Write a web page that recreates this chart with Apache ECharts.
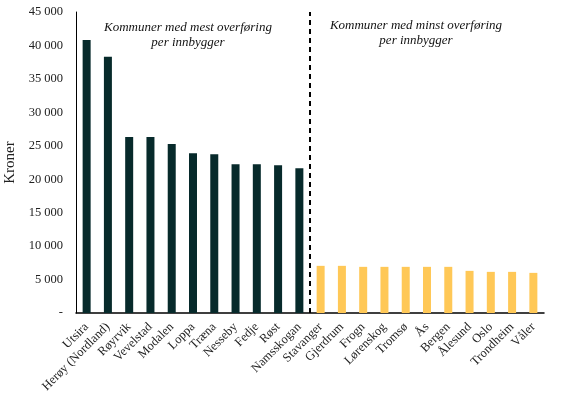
<!DOCTYPE html>
<html>
<head>
<meta charset="utf-8">
<script src="https://cdn.jsdelivr.net/npm/echarts@6/dist/echarts.min.js"></script>
<style>
  html, body { margin: 0; padding: 0; background: #fff; }
  #chart { width: 578px; height: 398px; }
</style>
</head>
<body>
<div id="chart"></div>
<script>
// mest overføring per innbygger
const mestNavn = ["Utsira", "Herøy (Nordland)", "Røyrvik", "Vevelstad", "Modalen", "Loppa", "Træna", "Nesseby", "Fedje", "Røst", "Namsskogan"];
const mestVerdi = [40800, 38300, 26300, 26300, 25250, 23900, 23750, 22250, 22250, 22100, 21650];
// minst overføring per innbygger
const minstNavn = ["Stavanger", "Gjerdrum", "Frogn", "Lørenskog", "Tromsø", "Ås", "Bergen", "Ålesund", "Oslo", "Trondheim", "Våler"];
const minstVerdi = [7050, 7050, 6900, 6900, 6900, 6900, 6900, 6300, 6150, 6150, 6000];
const yTicks = [0, 5000, 10000, 15000, 20000, 25000, 30000, 35000, 40000, 45000];

const kategorier = mestNavn.concat(minstNavn);
const mestData = mestVerdi.concat(minstNavn.map(() => null));
const minstData = mestNavn.map(() => null).concat(minstVerdi);

function fmt(v) {
  if (v === 0) return "-";
  return String(v).replace(/\B(?=(\d{3})+(?!\d))/g, " ");
}

const chart = echarts.init(document.getElementById("chart"));
chart.setOption({
  animation: false,
  grid: { left: 76, right: 34, top: 12, bottom: 85, outerBoundsMode: "none", containLabel: false },
  xAxis: [
    {
      type: "category",
      data: kategorier,
      axisLine: { lineStyle: { color: "#000", width: 1.5 } },
      axisTick: { show: false },
      axisLabel: {
        interval: 0,
        rotate: 45,
        margin: 12,
        fontFamily: "Liberation Serif",
        fontSize: 12.5,
        color: "#222"
      }
    },
    {
      // skjult hjelpeakse for skillelinja mellom gruppene
      type: "value",
      min: 0,
      max: kategorier.length,
      show: false
    }
  ],
  yAxis: {
    type: "value",
    min: yTicks[0],
    max: yTicks[yTicks.length - 1],
    interval: 5000,
    name: "Kroner",
    nameLocation: "middle",
    nameGap: 52,
    nameTextStyle: { fontFamily: "Liberation Serif", fontSize: 15, color: "#222" },
    axisLine: { show: true, lineStyle: { color: "#000", width: 1 } },
    axisTick: { show: false },
    splitLine: { show: false },
    axisLabel: {
      formatter: fmt,
      margin: 13,
      fontFamily: "Liberation Serif",
      fontSize: 12.5,
      color: "#222"
    }
  },
  graphic: [
    {
      type: "text",
      x: 188, y: 20,
      style: {
        text: "Kommuner med mest overføring\nper innbygger",
        align: "center",
        verticalAlign: "top",
        fontFamily: "Liberation Serif",
        fontStyle: "italic",
        fontSize: 13,
        lineHeight: 15,
        fill: "#111"
      }
    },
    {
      type: "text",
      x: 416, y: 18,
      style: {
        text: "Kommuner med minst overføring\nper innbygger",
        align: "center",
        verticalAlign: "top",
        fontFamily: "Liberation Serif",
        fontStyle: "italic",
        fontSize: 13,
        lineHeight: 15,
        fill: "#111"
      }
    }
  ],
  series: [
    {
      type: "bar",
      data: mestData,
      barWidth: 8,
      barGap: "-100%",
      itemStyle: { color: "#072a2b" }
    },
    {
      type: "bar",
      data: minstData,
      barWidth: 8,
      itemStyle: { color: "#ffc857" }
    },
    {
      type: "line",
      xAxisIndex: 1,
      data: [],
      markLine: {
        symbol: "none",
        silent: true,
        label: { show: false },
        lineStyle: { color: "#000", width: 2, type: [5, 4] },
        data: [{ xAxis: mestNavn.length }]
      }
    }
  ]
});
</script>
</body>
</html>
